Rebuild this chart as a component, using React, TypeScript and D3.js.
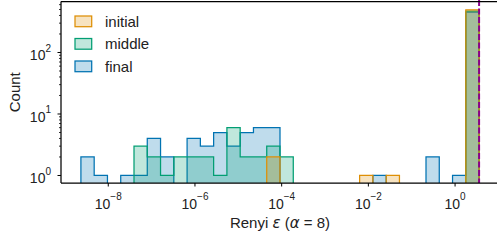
import React, { useRef, useEffect } from 'react';
import * as d3 from 'd3';

// histogram bins (log10 of epsilon), shared by all series
const binLo = -8.631;
const binHi = 0.554;
const nBins = 30;

const initialCounts = [0, 0, 0, 0, 0, 0, 0, 0, 0, 0, 0, 0, 0, 0, 2, 0, 0, 0, 0, 0, 0, 1, 0, 1, 0, 0, 0, 0, 0, 495];
const middleCounts = [0, 0, 0, 0, 3, 2, 1, 2, 2, 2, 1, 6, 2, 2, 3, 2, 0, 0, 0, 0, 0, 0, 0, 0, 0, 0, 0, 0, 0, 472];
const finalCounts = [2, 1, 0, 1, 1, 4, 2, 0, 4, 3, 5, 3, 5, 6, 6, 0, 0, 0, 0, 0, 0, 0, 1, 0, 0, 0, 2, 0, 1, 453];

const seriesNames = ['initial', 'middle', 'final'];
const seriesColors = ['#DE8F05', '#029E73', '#0173B2'];
const xTickExps = [-8, -6, -4, -2, 0];
const yTickExps = [0, 1, 2];
const targetEps = Math.pow(10, 0.554);

const W = 497;
const H = 242;
const FONT = '"Liberation Sans", Arial, sans-serif';

const App = () => {
  const svgRef = useRef<SVGSVGElement>(null);

  useEffect(() => {
    const svg = d3.select(svgRef.current);
    svg.selectAll('*').remove();

    const left = 61, right = 499, top = 1.5, bottom = 183;
    const pad = 0.05 * (binHi - binLo);

    const x = d3.scaleLog()
      .domain([Math.pow(10, binLo - pad), Math.pow(10, binHi + pad)])
      .range([left, right]);
    const y = d3.scaleLog()
      .domain([Math.pow(10, -0.122), Math.pow(10, 2.829)])
      .range([bottom, top]);

    const edges = d3.range(nBins + 1).map(i => Math.pow(10, binLo + (i * (binHi - binLo)) / nBins));
    const base = bottom + 10;
    const yv = (c: number) => (c > 0 ? y(c) : base);

    svg.append('defs').append('clipPath').attr('id', 'plotclip')
      .append('rect')
      .attr('x', left).attr('y', top)
      .attr('width', right - left).attr('height', bottom - top);

    const area = d3.area<[number, number]>()
      .x(d => x(d[0]))
      .y0(base)
      .y1(d => yv(d[1]))
      .curve(d3.curveStepAfter);

    const allCounts = [initialCounts, middleCounts, finalCounts];
    const plot = svg.append('g').attr('clip-path', 'url(#plotclip)');

    // draw last series first so "initial" ends up on top
    [2, 1, 0].forEach(s => {
      const counts = allCounts[s];
      const pts: [number, number][] = edges.map((e, i) => [e, counts[Math.min(i, nBins - 1)]]);
      plot.append('path')
        .attr('d', area(pts))
        .attr('fill', seriesColors[s])
        .attr('fill-opacity', 0.25)
        .attr('stroke', seriesColors[s])
        .attr('stroke-width', 1.25);
    });

    // target epsilon line
    svg.append('line')
      .attr('x1', x(targetEps)).attr('x2', x(targetEps))
      .attr('y1', 0).attr('y2', bottom)
      .attr('stroke', '#8B008B')
      .attr('stroke-width', 2)
      .attr('stroke-dasharray', '6,2.5');

    // spines
    svg.append('line').attr('x1', left).attr('x2', left).attr('y1', top).attr('y2', bottom)
      .attr('stroke', '#000').attr('stroke-width', 1.25);
    svg.append('line').attr('x1', left).attr('x2', right).attr('y1', bottom).attr('y2', bottom)
      .attr('stroke', '#000').attr('stroke-width', 1.25);
    svg.append('line').attr('x1', left).attr('x2', right).attr('y1', top).attr('y2', top)
      .attr('stroke', '#000').attr('stroke-width', 1.25);

    // x ticks
    xTickExps.forEach(e => {
      const px = x(Math.pow(10, e));
      svg.append('line').attr('x1', px).attr('x2', px).attr('y1', bottom).attr('y2', bottom + 3.5)
        .attr('stroke', '#000').attr('stroke-width', 1);
      const t = svg.append('text')
        .attr('x', px).attr('y', 209)
        .attr('text-anchor', 'middle')
        .attr('font-family', FONT)
        .attr('fill', '#222');
      t.append('tspan').attr('font-size', 14).text('10');
      t.append('tspan').attr('font-size', 10).attr('dy', -9.5).text(e < 0 ? '\u2212' + (-e) : String(e));
    });

    // y ticks (major + minor)
    yTickExps.forEach(e => {
      const py = y(Math.pow(10, e));
      svg.append('line').attr('x1', left - 3.5).attr('x2', left).attr('y1', py).attr('y2', py)
        .attr('stroke', '#000').attr('stroke-width', 1);
      const t = svg.append('text')
        .attr('x', 51).attr('y', py + 8)
        .attr('text-anchor', 'end')
        .attr('font-family', FONT)
        .attr('fill', '#222');
      t.append('tspan').attr('font-size', 14).text('10');
      t.append('tspan').attr('font-size', 10).attr('dy', -8.5).text(String(e));
    });
    const yMax = y.domain()[1];
    yTickExps.forEach(e => {
      d3.range(2, 10).forEach(m => {
        const v = m * Math.pow(10, e);
        if (v > yMax) return;
        const py = y(v);
        svg.append('line').attr('x1', left - 2).attr('x2', left).attr('y1', py).attr('y2', py)
          .attr('stroke', '#000').attr('stroke-width', 0.8);
      });
    });

    // axis labels
    const xl = svg.append('text')
      .attr('x', (left + right) / 2).attr('y', 228)
      .attr('text-anchor', 'middle')
      .attr('font-family', FONT)
      .attr('font-size', 15)
      .attr('fill', '#222');
    xl.append('tspan').text('Renyi ');
    xl.append('tspan').attr('font-style', 'italic').attr('font-family', '"DejaVu Sans", sans-serif').text('\u03B5');
    xl.append('tspan').text(' (');
    xl.append('tspan').attr('font-style', 'italic').attr('font-family', '"DejaVu Sans", sans-serif').text('\u03B1');
    xl.append('tspan').text(' = 8)');

    svg.append('text')
      .attr('transform', `translate(19.5,${(top + bottom) / 2}) rotate(-90)`)
      .attr('text-anchor', 'middle')
      .attr('font-family', FONT)
      .attr('font-size', 15)
      .attr('fill', '#222')
      .text('Count');

    // legend
    seriesNames.forEach((name, i) => {
      const cy = 21.3 + i * 22.5;
      svg.append('rect')
        .attr('x', 75).attr('y', cy - 5.3)
        .attr('width', 16.7).attr('height', 10.7)
        .attr('fill', seriesColors[i]).attr('fill-opacity', 0.25)
        .attr('stroke', seriesColors[i]).attr('stroke-width', 1.25);
      svg.append('text')
        .attr('x', 105).attr('y', cy + 5.3)
        .attr('font-family', FONT)
        .attr('font-size', 15)
        .attr('fill', '#222')
        .text(name);
    });
  }, []);

  return (
    <svg
      ref={svgRef}
      width={W}
      height={H}
      style={{ position: 'absolute', left: 0, top: 0, background: '#fff' }}
    />
  );
};

export default App;
